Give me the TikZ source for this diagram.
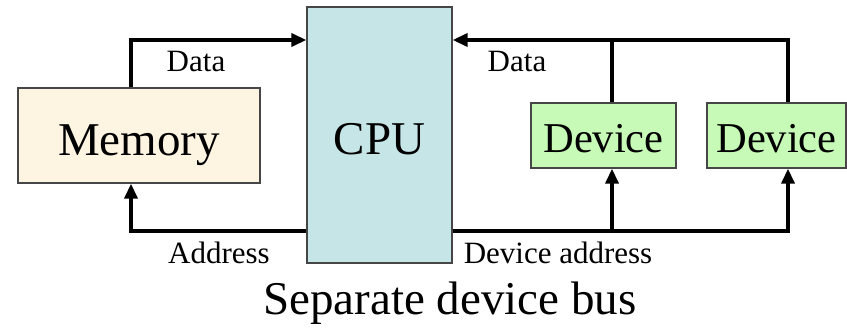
\documentclass[tikz,border=0pt]{standalone}
\usepackage{fontspec}
\setmainfont{Liberation Serif}
\usetikzlibrary{arrows.meta}
\definecolor{memfill}{RGB}{253,244,226}
\definecolor{cpufill}{RGB}{197,229,231}
\definecolor{devfill}{RGB}{198,250,182}
\definecolor{edge}{RGB}{70,70,70}
\tikzset{
  unit/.style={draw=edge, line width=1.3pt, inner sep=0pt, text depth=0pt},
  bus/.style={line width=3.5pt, line join=miter, line cap=butt},
  tip/.style={-{Triangle[length=15pt,width=13pt]}},
  lbl/.style={inner sep=0pt, anchor=base, font=\fontsize{31}{31}\selectfont},
}
\begin{document}
\begin{tikzpicture}[x=1pt,y=-1pt]
\useasboundingbox (0,0) rectangle (847,329);

% functional units (text height places each baseline)
\node[unit, fill=memfill, minimum width=242pt, minimum height=95pt, text height=39pt,
      font=\fontsize{47}{47}\selectfont] (mem) at (139,135.5) {Memory};
\node[unit, fill=cpufill, minimum width=145pt, minimum height=256pt, text height=38pt,
      font=\fontsize{47}{47}\selectfont] (cpu) at (379.5,135) {CPU};
\node[unit, fill=devfill, minimum width=145pt, minimum height=65pt, text height=35pt,
      font=\fontsize{42.5}{42.5}\selectfont] (dev1) at (603.5,135.5) {Device};
\node[unit, fill=devfill, minimum width=139pt, minimum height=65pt, text height=35pt,
      font=\fontsize{42.5}{42.5}\selectfont] (dev2) at (776.5,135.5) {Device};

% bus rails
\coordinate (dataY) at (0,40);
\coordinate (addrY) at (0,231);
\coordinate (mx) at (131,0);
\coordinate (t1) at (612,0);
\coordinate (t2) at (788,0);

% memory bus
\draw[bus,tip] (mem.north -| mx) |- (cpu.west |- dataY);
\draw[bus,tip] (cpu.west |- addrY) -| (mem.south -| mx);

% device bus
\draw[bus,tip] (dev2.north -| t2) |- (cpu.east |- dataY);
\draw[bus] (dev1.north -| t1) -- (t1 |- dataY);
\draw[bus,tip] (cpu.east |- addrY) -| (dev2.south -| t2);
\draw[bus,tip] (t1 |- addrY) -- (dev1.south -| t1);

% labels
\node[lbl] (ldata) at (196,72) {Data};
\node[lbl] (rdata) at (517,72) {Data};
\node[lbl] (laddr) at (219,263) {Address};
\node[lbl] (raddr) at (558,263) {Device address};
\node[inner sep=0pt, anchor=base, font=\fontsize{47}{47}\selectfont] (title) at (450,314) {Separate device bus};
\end{tikzpicture}
\end{document}
